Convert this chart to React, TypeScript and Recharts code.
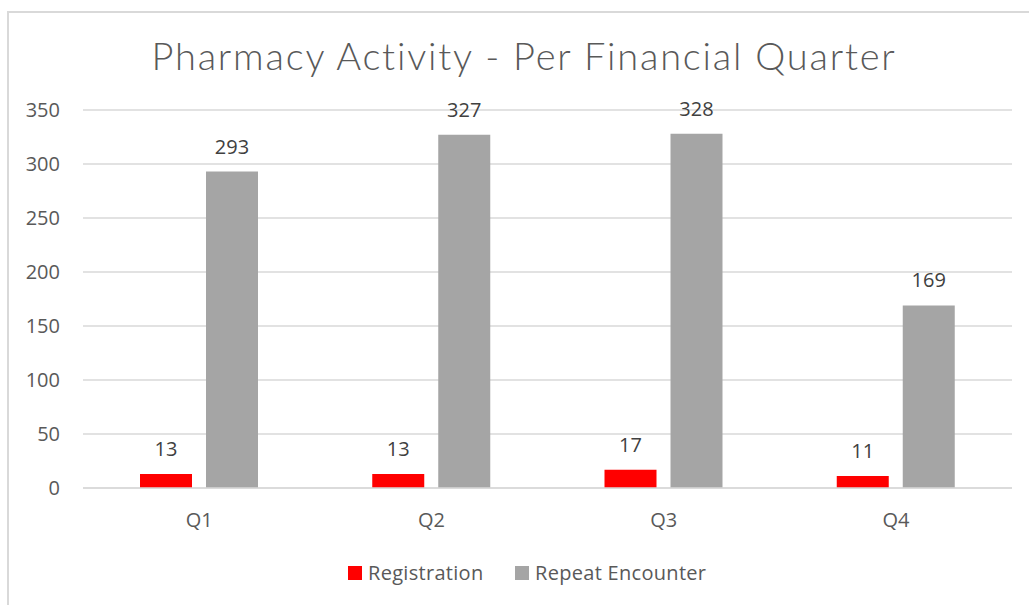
import React from 'react';
import { BarChart, Bar, XAxis, YAxis, CartesianGrid, LabelList } from 'recharts';

const quarters = ['Q1', 'Q2', 'Q3', 'Q4'];
const registration = [13, 13, 17, 11];
const repeatEncounter = [293, 327, 328, 169];
const yTicks = [0, 50, 100, 150, 200, 250, 300, 350];

const series = [
  { key: 'registration', name: 'Registration', color: '#ff0000' },
  { key: 'repeat', name: 'Repeat Encounter', color: '#a5a5a5' },
];

const data = quarters.map((q, i) => ({
  quarter: q,
  registration: registration[i],
  repeat: repeatEncounter[i],
}));

const FONT = '"Open Sans", "Liberation Sans", sans-serif';

export default function App() {
  return (
    <div style={{ position: 'absolute', left: 0, top: 0, width: 1029, height: 605, overflow: 'hidden', background: '#fff' }}>
      <div
        style={{
          position: 'absolute', left: 7, top: 11, width: 1040, height: 620,
          border: '2px solid #d9d9d9', boxSizing: 'border-box',
        }}
      />
      <div
        style={{
          position: 'absolute', left: 0, width: 1048, top: 31, textAlign: 'center',
          fontFamily: 'Lato, sans-serif', fontWeight: 300, fontSize: 38, letterSpacing: 1.8,
          color: '#595959', lineHeight: '48px',
        }}
      >
        Pharmacy Activity - Per Financial Quarter
      </div>
      <div style={{ position: 'absolute', left: 0, top: 0 }}>
        <BarChart
          width={1029}
          height={605}
          data={data}
          margin={{ top: 110, right: 17, left: 0, bottom: 0 }}
          barGap={14}
          barSize={52}
        >
          <CartesianGrid horizontal vertical={false} stroke="#d9d9d9" strokeWidth={1.5} />
          <XAxis
            dataKey="quarter"
            height={117}
            tickLine={false}
            tickSize={0}
            tickMargin={25}
            axisLine={{ stroke: '#d9d9d9', strokeWidth: 1.5 }}
            tick={{ fontSize: 20, fill: '#595959', fontFamily: FONT }}
          />
          <YAxis
            width={83}
            domain={[0, 350]}
            ticks={yTicks}
            interval={0}
            tickLine={false}
            axisLine={false}
            tickSize={0}
            tickMargin={23}
            tick={{ fontSize: 20, fill: '#595959', fontFamily: FONT }}
          />
          {series.map((s) => (
            <Bar key={s.key} dataKey={s.key} name={s.name} fill={s.color} isAnimationActive={false}>
              <LabelList
                dataKey={s.key}
                position="top"
                offset={18}
                style={{ fontSize: 20, fill: '#404040', fontFamily: FONT }}
              />
            </Bar>
          ))}
        </BarChart>
      </div>
      <div
        style={{
          position: 'absolute', left: 348, top: 560, display: 'flex', alignItems: 'center',
          fontFamily: FONT, fontSize: 20, letterSpacing: 0.3, color: '#595959', lineHeight: '26px',
        }}
      >
        {series.map((s, i) => (
          <div key={s.key} style={{ display: 'flex', alignItems: 'center', width: i === 0 ? 167 : 'auto' }}>
            <span style={{ width: 14, height: 14, background: s.color, display: 'inline-block', marginRight: 6 }} />
            <span>{s.name}</span>
          </div>
        ))}
      </div>
    </div>
  );
}
